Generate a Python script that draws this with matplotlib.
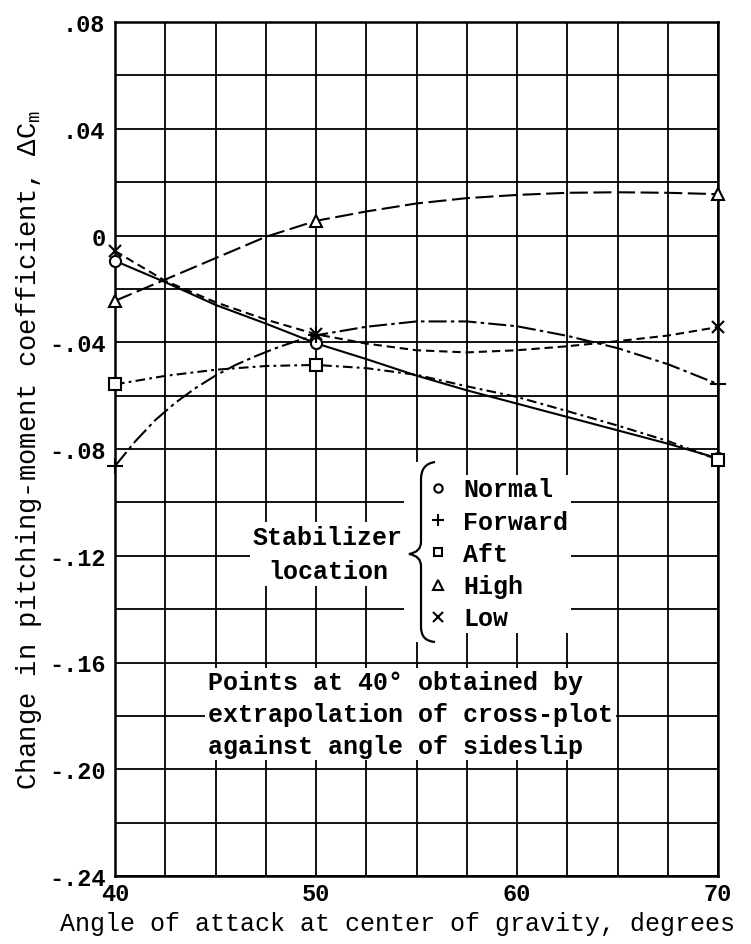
import matplotlib
matplotlib.use('Agg')
import matplotlib.pyplot as plt
from matplotlib.ticker import MultipleLocator, FixedLocator, FixedFormatter
from matplotlib.path import Path
from matplotlib.patches import PathPatch, Rectangle
from matplotlib.lines import Line2D

plt.rcParams['font.family'] = ['Liberation Mono', 'DejaVu Sans Mono']
plt.rcParams['font.weight'] = 'bold'
plt.rcParams['mathtext.fontset'] = 'custom'
plt.rcParams['mathtext.rm'] = 'Liberation Mono:bold'
plt.rcParams['lines.scale_dashes'] = False

# ---------------- data ----------------
point_angles = [40, 50, 70]
normal_pts = [-0.0095, -0.0404, -0.0835]
forward_pts = [-0.0864, -0.0372, -0.0557]
aft_pts = [-0.0558, -0.0485, -0.0840]
high_pts = [-0.0245, 0.0055, 0.0155]
low_pts = [-0.0058, -0.0370, -0.0343]

# faired curves
normal_angles = [40, 42.5, 45, 47.5, 50, 52.5, 55, 57.5, 60, 62.5, 65, 67.5, 70]
normal_curve = [-0.0095, -0.0175, -0.0260, -0.0330, -0.0404, -0.0463, -0.0525,
                -0.0580, -0.0630, -0.0680, -0.0730, -0.0780, -0.0835]
forward_angles = [40, 41, 42, 43, 44, 45, 46, 47, 48, 49, 50, 52.5, 55, 57.5,
                  60, 62.5, 65, 67.5, 70]
forward_curve = [-0.0864, -0.0772, -0.0692, -0.0627, -0.0572, -0.0525, -0.0485,
                 -0.0452, -0.0422, -0.0396, -0.0374, -0.0342, -0.0322, -0.0322,
                 -0.0340, -0.0376, -0.0422, -0.0482, -0.0557]
aft_angles = [40, 42.5, 45, 47.5, 50, 52.5, 55, 57.5, 60, 62.5, 65, 67.5, 70]
aft_curve = [-0.0558, -0.0526, -0.0503, -0.0489, -0.0485, -0.0497, -0.0522,
             -0.0565, -0.0605, -0.0658, -0.0712, -0.0770, -0.0840]
high_angles = [40, 42.5, 45, 47.5, 50, 52.5, 55, 57.5, 60, 62.5, 65, 67.5, 70]
high_curve = [-0.0245, -0.0165, -0.0085, -0.0005, 0.0055, 0.0090, 0.0120,
              0.0140, 0.0152, 0.0160, 0.0162, 0.0160, 0.0155]
low_angles = [40, 42.5, 45, 47.5, 50, 52.5, 55, 57.5, 60, 62.5, 65, 67.5, 70]
low_curve = [-0.0058, -0.0170, -0.0250, -0.0315, -0.0370, -0.0405, -0.0430,
             -0.0438, -0.0430, -0.0415, -0.0396, -0.0375, -0.0343]

series_names = ['Normal', 'Forward', 'Aft', 'High', 'Low']

x_tick_values = [40, 50, 60, 70]
x_tick_labels = ['40', '50', '60', '70']
y_tick_values = [0.08, 0.04, 0.0, -0.04, -0.08, -0.12, -0.16, -0.20, -0.24]
y_tick_labels = ['.08', '.04', '0', '-.04', '-.08', '-.12', '-.16', '-.20', '-.24']

# ---------------- figure ----------------
W, H = 751, 945
fig = plt.figure(figsize=(W / 100, H / 100), dpi=100)
L, R, T, B = 115, 718, 23, 877
ax = fig.add_axes([L / W, 1 - B / H, (R - L) / W, (B - T) / H])
ax.set_xlim(40, 70)
ax.set_ylim(-0.24, 0.08)

def px(xp, yp):
    return ((xp - L) / (R - L), (B - yp) / (B - T))

ax.xaxis.set_major_locator(FixedLocator(x_tick_values))
ax.xaxis.set_major_formatter(FixedFormatter(x_tick_labels))
ax.xaxis.set_minor_locator(MultipleLocator(2.5))
ax.yaxis.set_major_locator(FixedLocator(y_tick_values))
ax.yaxis.set_major_formatter(FixedFormatter(y_tick_labels))
ax.yaxis.set_minor_locator(MultipleLocator(0.02))
ax.tick_params(which='both', length=0)
ax.tick_params(axis='x', labelsize=17, pad=4)
ax.tick_params(axis='y', labelsize=17, pad=7)
ax.grid(True, which='both', color='black', linewidth=1.3)
ax.set_axisbelow(True)
for s in ax.spines.values():
    s.set_linewidth(1.8)

lw = 1.5
styles = {
    'Normal': dict(linestyle='-', marker='o', ms=8),
    'Forward': dict(linestyle=(0, (13, 3, 2.5, 3)), marker='+', ms=11),
    'Aft': dict(linestyle=(0, (7, 3, 2, 3)), marker='s', ms=8),
    'High': dict(linestyle=(0, (13, 4)), marker='^', ms=9),
    'Low': dict(linestyle=(0, (6, 3.5)), marker='x', ms=9),
}
curves = [(normal_angles, normal_curve), (forward_angles, forward_curve),
          (aft_angles, aft_curve), (high_angles, high_curve), (low_angles, low_curve)]
points = [normal_pts, forward_pts, aft_pts, high_pts, low_pts]
for name, (ca, cv), pt in zip(series_names, curves, points):
    st = styles[name]
    ax.plot(ca, cv, color='black', linewidth=lw, linestyle=st['linestyle'], zorder=3)
    ax.plot(point_angles, pt, linestyle='none', marker=st['marker'], ms=st['ms'],
            mfc='white', mec='black', mew=1.5, zorder=4, clip_on=False)

# legend
handles = [Line2D([], [], linestyle='none', marker=styles[n]['marker'],
                  ms=styles[n]['ms'] * 0.75, mfc='white', mec='black', mew=1.5)
           for n in series_names]
leg = ax.legend(handles, series_names, loc='upper left', bbox_to_anchor=px(428, 476),
                frameon=True, facecolor='white', edgecolor='none', framealpha=1,
                fancybox=False, borderpad=0.1, borderaxespad=0, handlelength=0.6,
                handletextpad=0.7, labelspacing=0.33, prop=dict(size=18, weight='bold'))
leg.set_zorder(5)

# brace with white background
ax.add_patch(Rectangle(px(404, 643), (440 - 404) / (R - L), (643 - 463) / (B - T),
                       transform=ax.transAxes, facecolor='white', edgecolor='none', zorder=5))
pts = [px(435, 463), px(421, 465), px(421, 480), px(421, 543), px(421, 553), px(409, 555),
       px(421, 557), px(421, 567), px(421, 628), px(421, 642), px(435, 643)]
codes = [Path.MOVETO, Path.CURVE3, Path.CURVE3, Path.LINETO, Path.CURVE3, Path.CURVE3,
         Path.CURVE3, Path.CURVE3, Path.LINETO, Path.CURVE3, Path.CURVE3]
ax.add_patch(PathPatch(Path(pts, codes), transform=ax.transAxes, facecolor='none',
                       edgecolor='black', linewidth=1.6, zorder=6))

white = dict(facecolor='white', edgecolor='none', pad=2)
ax.text(*px(328, 555), 'Stabilizer\nlocation', transform=ax.transAxes, ha='center',
        va='center', fontsize=18, linespacing=1.55, bbox=white, zorder=5)
ax.text(*px(208, 715), 'Points at 40° obtained by\nextrapolation of cross-plot\nagainst angle of sideslip',
        transform=ax.transAxes, ha='left', va='center', fontsize=18, linespacing=1.4,
        bbox=white, zorder=5)

ax.set_xlabel('Angle of attack at center of gravity, degrees', fontsize=18)
ax.xaxis.set_label_coords(*px(397, 912))
ax.set_ylabel('Change in pitching-moment coefficient, Δ$\\mathregular{C_m}$', fontsize=19.5)
ax.yaxis.set_label_coords(*px(44, 450))

fig.savefig('out.png', dpi=100)
